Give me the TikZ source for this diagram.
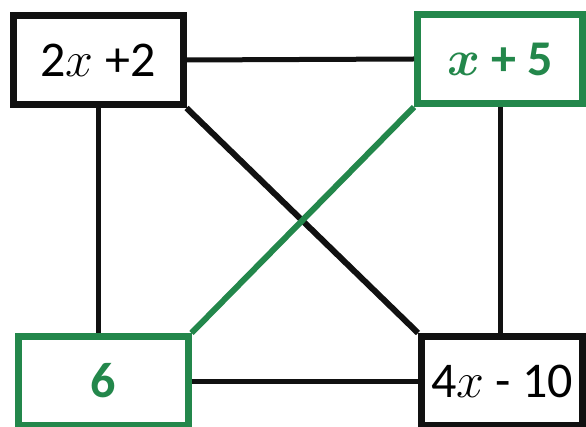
\RequirePackage{fix-cm}
\documentclass[tikz,border=0pt]{standalone}
\usepackage{fontspec}
\setmainfont{Carlito}
\usepackage{xcolor}
\definecolor{ink}{HTML}{111111}
\definecolor{accent}{HTML}{23874B}

\begin{document}
\begin{tikzpicture}[x=1pt,y=-1pt,
  box/.style={draw=ink,line width=7pt,fill=white,inner sep=0pt,
    minimum width=170pt,minimum height=89pt,font=\fontsize{50}{60}\selectfont},
  good/.style={box,draw=accent,text=accent,font=\fontsize{50}{60}\selectfont\bfseries\boldmath},
  link/.style={ink,line width=5pt}]
  \useasboundingbox (0,0) rectangle (586,427);
  \node[box] (twox) at (98,60) {2$x$ +2};
  \node[good,minimum width=165pt] (xfive) at (500,59) {$x$ + 5};
  \node[good] (six) at (103,381) {6};
  \node[box,minimum width=161pt] (fourx) at (502,381) {4$x$ - 10};
  \draw[link] (twox.east) -- (xfive.west);
  \draw[link] (six.east) -- (fourx.west);
  \draw[link] (twox.south) -- (twox.south |- six.north);
  \draw[link] (xfive.south) -- (xfive.south |- fourx.north);
  \draw[link,line width=6pt] (twox.south east) -- (fourx.north west);
  \draw[accent,line width=6pt] (xfive.south west) -- (six.north east);
\end{tikzpicture}
\end{document}
